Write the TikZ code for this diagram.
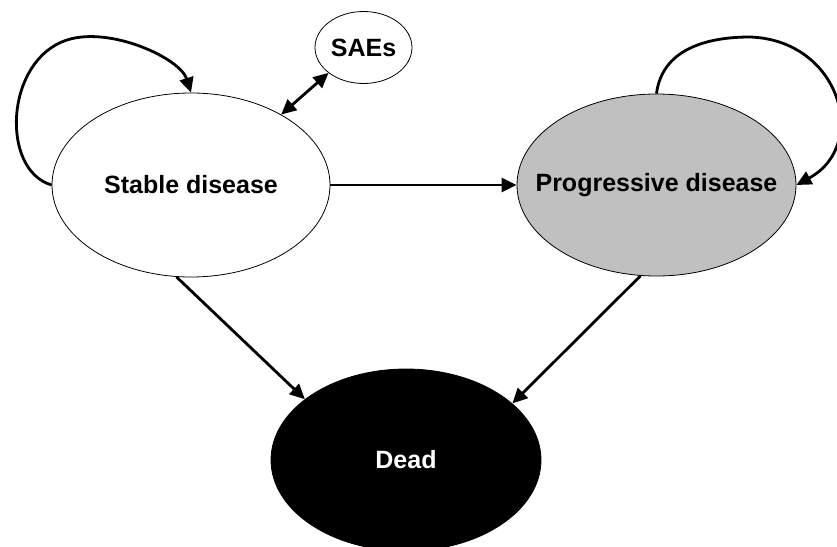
\documentclass[tikz,border=0pt]{standalone}
\usepackage{fontspec}
\setmainfont{Liberation Sans}
\usetikzlibrary{shapes.geometric,arrows.meta}
\begin{document}
\begin{tikzpicture}[x=1pt,y=-1pt,
  state/.style={ellipse,draw=black,line width=0.8pt,inner sep=0pt,
    font=\fontsize{25}{30}\selectfont\bfseries},
  conn/.style={line width=2.8pt,-{Triangle[length=15pt,width=14pt]}},
  dconn/.style={line width=2.8pt,{Triangle[length=15pt,width=14pt]}-{Triangle[length=15pt,width=14pt]}}]
\useasboundingbox (0,0) rectangle (837,546);
\clip (0,0) rectangle (837,546);
\fill[white] (0,0) rectangle (837,546);
\node[state,fill=white,minimum width=278pt,minimum height=184pt] (S) at (191,185) {Stable disease};
\node[state,inner xsep=-40pt,fill={rgb,255:red,192;green,192;blue,192},minimum width=279pt,minimum height=182pt] (P) at (656.5,185) {Progressive disease};
\node[state,fill=black,text=white,minimum width=270pt,minimum height=182pt] (D) at (406,460) {Dead};
\node[state,inner xsep=-10pt,fill=white,minimum width=97pt,minimum height=72pt] (A) at (363.5,47.5) {SAEs};
\draw[conn] (S.west) .. controls (0,170) and (5,60) .. (67,40) .. controls (110,26) and (180,58) .. (S.north);
\draw[conn] (P.north) .. controls (662,50) and (705,37) .. (750,37) .. controls (840,40) and (870,145) .. (P.east);
\draw[conn] (S.east) -- (P.west);
\draw[dconn] (S.38) -- (A.216);
\draw[conn] (S.261) -- (D.149);
\draw[conn] (P.260) -- (D.28);
\end{tikzpicture}
\end{document}
